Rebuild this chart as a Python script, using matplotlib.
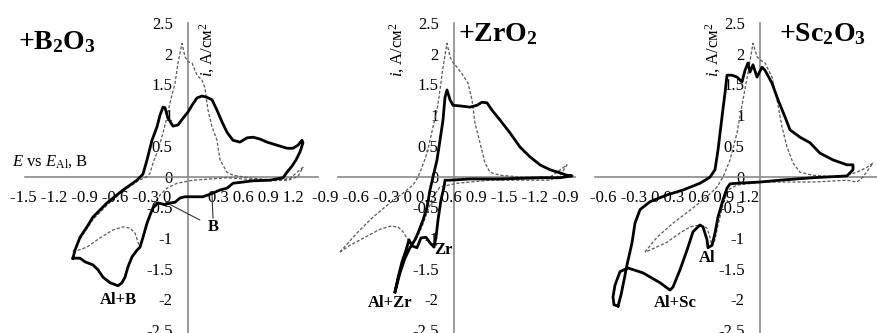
import matplotlib
matplotlib.use("Agg")
import matplotlib.pyplot as plt

plt.rcParams["font.family"] = ["Liberation Serif", "DejaVu Serif"]
plt.rcParams["mathtext.fontset"] = "custom"
plt.rcParams["mathtext.rm"] = "Liberation Serif"
plt.rcParams["mathtext.it"] = "Liberation Serif:italic"
plt.rcParams["mathtext.bf"] = "Liberation Serif:bold"

# current density ticks, A/cm2
Y_TICKS = [2.5, 2, 1.5, 1, 0.5, 0, -0.5, -1, -1.5, -2, -2.5]
Y_LABELS = ["2.5", "2", "1.5", "1", "0.5", "0", "-0.5", "-1", "-1.5", "-2", "-2.5"]

# potential labels printed along each horizontal axis
XT_B_LEFT = ["-1.5", "-1.2", "-0.9", "-0.6", "-0.3", "0"]
XT_B_RIGHT = ["0.3", "0.6", "0.9", "1.2"]
XT_ZR = ["-0.9", "-0.6", "-0.3", "0", "0.3", "0.6", "0.9", "-1.5", "-1.2", "-0.9"]
XT_SC = ["-0.6", "-0.3", "0", "0.3", "0.6", "0.9", "1.2"]

# +B2O3: melt with additive (solid) and background (dashed)
B_E = [-1.15, -1.13, -1.08, -1.01, -0.95, -0.81, -0.65, -0.51, -0.45, -0.41, -0.36, -0.31,
       -0.28, -0.25, -0.23, -0.20, -0.15, -0.10, -0.05, 0.00, 0.04, 0.09, 0.14, 0.19, 0.24,
       0.29, 0.34, 0.39, 0.45, 0.52, 0.59, 0.65, 0.72, 0.79, 0.89, 0.99, 1.05, 1.10, 1.14,
       1.15, 1.12, 1.08, 1.04, 0.99, 0.95, 0.82, 0.65, 0.45, 0.39, 0.32, 0.25, 0.20, 0.15,
       0.05, -0.03, -0.08, -0.13, -0.18, -0.23, -0.30, -0.35, -0.38, -0.41, -0.45, -0.48,
       -0.51, -0.56, -0.60, -0.63, -0.66, -0.70, -0.78, -0.85, -0.90, -0.95, -1.03, -1.08,
       -1.15]
B_I = [-1.33, -1.20, -0.99, -0.82, -0.66, -0.43, -0.22, -0.06, 0.04, 0.27, 0.59, 0.81,
       1.00, 1.13, 1.12, 0.95, 0.82, 0.84, 0.95, 1.05, 1.16, 1.28, 1.31, 1.29, 1.25,
       1.08, 0.89, 0.72, 0.59, 0.56, 0.63, 0.64, 0.61, 0.56, 0.51, 0.46, 0.46, 0.51, 0.59,
       0.55, 0.40, 0.27, 0.17, 0.07, -0.02, -0.06, -0.07, -0.11, -0.19, -0.22, -0.27, -0.30, -0.33,
       -0.33, -0.33, -0.35, -0.42, -0.43, -0.46, -0.43, -0.51, -0.63, -0.76, -0.99, -1.15,
       -1.20, -1.31, -1.47, -1.64, -1.73, -1.78, -1.73, -1.64, -1.52, -1.44, -1.39, -1.33,
       -1.33]
B0_E = [-1.15, -1.08, -0.95, -0.80, -0.65, -0.50, -0.42, -0.38, -0.35, -0.30, -0.25, -0.21,
        -0.18, -0.13, -0.10, -0.06, -0.03, 0.00, 0.04, 0.09, 0.14, 0.17, 0.20, 0.24, 0.29,
        0.32, 0.39, 0.45, 0.65, 0.89, 1.02, 1.15, 1.10, 1.00, 0.80, 0.39, 0.05, -0.11,
        -0.21, -0.28, -0.33, -0.37, -0.41, -0.45, -0.48, -0.50, -0.53, -0.58, -0.65, -0.75,
        -0.88, -1.01, -1.15]
B0_I = [-1.23, -1.02, -0.70, -0.45, -0.24, -0.07, -0.01, 0.05, 0.22, 0.43, 0.71, 0.97,
        1.20, 1.52, 1.85, 2.17, 1.95, 1.87, 1.85, 1.65, 1.57, 1.44, 1.08, 0.81, 0.59,
        0.27, 0.07, 0.02, -0.03, -0.06, -0.03, 0.15, 0.00, -0.06, -0.07, -0.02, -0.06, -0.11,
        -0.19, -0.30, -0.43, -0.58, -0.79, -1.00, -1.15, -1.07, -0.92, -0.84, -0.82, -0.87,
        -1.00, -1.15, -1.23]

# +ZrO2
ZR_E = [-0.59, -0.54, -0.49, -0.44, -0.39, -0.36, -0.31, -0.27, -0.24, -0.21, -0.17, -0.14,
        -0.11, -0.09, -0.07, -0.04, -0.01, 0.06, 0.16, 0.23, 0.28, 0.33, 0.38, 0.46, 0.56,
        0.66, 0.76, 0.86, 0.96, 1.06, 1.13, 1.18, 1.06, 0.86, 0.46, 0.16, -0.04, -0.09,
        -0.10, -0.13, -0.16, -0.18, -0.20, -0.24, -0.28, -0.33, -0.37, -0.42, -0.45, -0.48,
        -0.52, -0.56, -0.59]
ZR_I = [-1.88, -1.57, -1.33, -1.16, -1.03, -0.92, -0.71, -0.50, -0.22, -0.01, 0.27, 0.59,
        0.92, 1.29, 1.41, 1.25, 1.16, 1.15, 1.13, 1.16, 1.21, 1.20, 1.08, 0.92, 0.71,
        0.48, 0.32, 0.19, 0.11, 0.06, 0.02, 0.01, -0.02, -0.02, -0.04, -0.04, -0.06, -0.06,
        -0.17, -0.38, -0.71, -0.99, -1.15, -1.08, -0.99, -1.00, -1.16, -1.13, -1.03, -1.20,
        -1.39, -1.65, -1.88]
ZR0_E = [-1.14, -0.97, -0.81, -0.64, -0.51, -0.41, -0.36, -0.32, -0.27, -0.24, -0.21, -0.17,
         -0.14, -0.11, -0.07, -0.04, -0.01, 0.03, 0.09, 0.14, 0.18, 0.21, 0.26, 0.31, 0.36,
         0.46, 0.69, 0.96, 1.03, 1.13, 1.06, 0.96, 0.69, 0.36, 0.03, -0.14, -0.21, -0.27,
         -0.32, -0.37, -0.42, -0.46, -0.51, -0.56, -0.64, -0.74, -0.89, -1.04, -1.14]
ZR0_I = [-1.23, -0.92, -0.66, -0.43, -0.27, -0.14, -0.01, 0.15, 0.38, 0.59, 0.81, 1.08,
         1.41, 1.78, 2.17, 1.95, 1.86, 1.78, 1.65, 1.52, 1.25, 0.87, 0.55, 0.22, 0.07,
         0.02, -0.01, -0.01, 0.07, 0.19, 0.02, -0.06, -0.06, -0.06, -0.11, -0.17, -0.33, -0.59,
         -0.82, -0.99, -1.12, -1.03, -0.90, -0.82, -0.81, -0.86, -0.99, -1.12, -1.23]

# +Sc2O3
SC_E = [-1.42, -1.39, -1.36, -1.33, -1.28, -1.25, -1.20, -1.10, -0.93, -0.77, -0.60, -0.50,
        -0.45, -0.42, -0.38, -0.35, -0.33, -0.28, -0.23, -0.18, -0.15, -0.12, -0.10, -0.07,
        -0.03, 0.02, 0.05, 0.12, 0.18, 0.25, 0.30, 0.40, 0.50, 0.60, 0.73, 0.87, 0.93,
        0.93, 0.87, 0.53, 0.20, 0.00, -0.23, -0.30, -0.33, -0.37, -0.42, -0.45, -0.48,
        -0.52, -0.53, -0.57, -0.60, -0.67, -0.73, -0.80, -0.87, -0.90, -1.00, -1.17, -1.32,
        -1.40, -1.45, -1.47, -1.46, -1.42]
SC_I = [-2.11, -1.93, -1.69, -1.44, -1.08, -0.76, -0.54, -0.41, -0.30, -0.22, -0.11, -0.01,
        0.11, 0.43, 0.97, 1.36, 1.65, 1.65, 1.62, 1.54, 1.73, 1.85, 1.70, 1.82,
        1.62, 1.78, 1.73, 1.52, 1.25, 0.97, 0.76, 0.64, 0.55, 0.38, 0.27, 0.19, 0.19,
        0.11, 0.01, -0.02, -0.06, -0.09, -0.11, -0.12, -0.19, -0.38, -0.66, -0.92, -1.12,
        -1.16, -1.03, -0.82, -0.79, -0.90, -1.20, -1.52, -1.80, -1.85, -1.73, -1.57, -1.49,
        -1.55, -1.77, -1.96, -2.09, -2.11]
SC0_E = [-1.15, -1.03, -0.87, -0.70, -0.53, -0.43, -0.37, -0.30, -0.23, -0.17, -0.12, -0.07,
         -0.03, 0.00, 0.05, 0.12, 0.17, 0.22, 0.27, 0.33, 0.40, 0.53, 0.80, 0.97, 1.07,
         1.13, 1.03, 0.97, 0.87, 0.53, 0.03, -0.23, -0.32, -0.37, -0.42, -0.45, -0.48,
         -0.50, -0.53, -0.60, -0.70, -0.80, -0.93, -1.10, -1.15]
SC0_I = [-1.23, -0.99, -0.76, -0.55, -0.33, -0.17, -0.01, 0.27, 0.71, 1.25, 1.69, 2.17,
         1.95, 1.90, 1.85, 1.62, 1.25, 0.81, 0.48, 0.22, 0.07, 0.02, -0.01, 0.07, 0.15,
         0.22, -0.01, -0.09, -0.06, -0.09, -0.09, -0.14, -0.22, -0.46, -0.79, -1.03, -1.13,
         -0.99, -0.84, -0.79, -0.82, -0.92, -1.07, -1.20, -1.23]

W, H = 878, 333
fig = plt.figure(figsize=(W / 100, H / 100), dpi=100)

YMAX, YMIN = 2.875, -2.549
AXIS_GREY = "#8a8a8a"


def panel(left, right, xlim, xbounds, solid, dashed):
    ax = fig.add_axes([left / W, 0, (right - left) / W, 1])
    ax.set_facecolor("none")
    ax.set_xlim(*xlim)
    ax.set_ylim(YMIN, YMAX)
    for s in ("top", "right"):
        ax.spines[s].set_visible(False)
    ax.spines["left"].set_position(("data", 0))
    ax.spines["bottom"].set_position(("data", 0))
    ax.spines["left"].set_bounds(-2.7, 2.5)
    ax.spines["bottom"].set_bounds(*xbounds)
    for s in ("left", "bottom"):
        ax.spines[s].set_color(AXIS_GREY)
        ax.spines[s].set_linewidth(1.2)
        ax.spines[s].set_zorder(1)
    ax.set_axisbelow(True)
    ax.set_xticks([])
    ax.set_yticks(Y_TICKS, Y_LABELS)
    ax.tick_params(axis="y", length=0, pad=11, labelsize=12)
    ax.plot(*dashed, color="#5a5a5a", lw=0.9, ls=(0, (2.5, 1.5)), zorder=3)
    ax.plot(*solid, color="black", lw=2.0, solid_joinstyle="round", zorder=4)
    return ax


ax1 = panel(0, 330, (-1.88, 1.42), (-1.63, 1.30), (B_E, B_I), (B0_E, B0_I))
ax2 = panel(330, 590, (-1.24, 1.36), (-1.16, 1.21), (ZR_E, ZR_I), (ZR0_E, ZR0_I))
ax3 = panel(590, 878, (-1.70, 1.18), (-1.65, 1.18), (SC_E, SC_I), (SC0_E, SC0_I))

# potential labels under the horizontal axes
XL_Y = -0.35
ax1.text(-1.78, XL_Y, " ".join(XT_B_LEFT), ha="left", va="center", fontsize=12)
ax1.text(0.20, XL_Y, " ".join(XT_B_RIGHT), ha="left", va="center", fontsize=12)
ax2.text(-1.42, XL_Y, " ".join(XT_ZR), ha="left", va="center", fontsize=12)
ax3.text(-1.70, XL_Y, " ".join(XT_SC), ha="left", va="center", fontsize=12)

# current density axis titles
ylab = r"$i$, A/см$^2$"
ax1.text(0.19, 2.52, ylab, rotation=90, ha="center", va="top", fontsize=12)
ax2.text(-0.57, 2.52, ylab, rotation=90, ha="center", va="top", fontsize=12)
ax3.text(-0.47, 2.52, ylab, rotation=90, ha="center", va="top", fontsize=12)
ax1.text(-1.76, 0.24, r"$E$ vs $E_{\rm Al}$, B", ha="left", va="center", fontsize=12)

# additive names
tkw = dict(fontsize=20, fontweight="bold", ha="center", va="center")
ax1.text(-1.31, 2.19, r"+B$_\mathbf{2}$O$_\mathbf{3}$", **tkw)
ax2.text(0.44, 2.32, r"+ZrO$_\mathbf{2}$", **tkw)
ax3.text(0.63, 2.32, r"+Sc$_\mathbf{2}$O$_\mathbf{3}$", **tkw)

# deposition waves
akw = dict(fontsize=12, fontweight="bold", ha="center", va="center")
ax1.text(-0.70, -2.01, "Al+B", **akw)
ax1.annotate("B", xy=(-0.21, -0.43), xytext=(0.25, -0.82),
             arrowprops=dict(arrowstyle="-", lw=0.8, color="#333333",
                             shrinkA=4, shrinkB=0), **akw)
ax1.annotate("", xy=(0.24, -0.30), xytext=(0.25, -0.68),
             arrowprops=dict(arrowstyle="-", lw=0.8, color="#333333",
                             shrinkA=0, shrinkB=0))
ax2.text(-0.11, -1.20, "Zr", **akw)
ax2.text(-0.64, -2.06, "Al+Zr", **akw)
ax3.text(-0.53, -1.33, "Al", **akw)
ax3.text(-0.85, -2.06, "Al+Sc", **akw)

fig.savefig("out.png", dpi=100)
